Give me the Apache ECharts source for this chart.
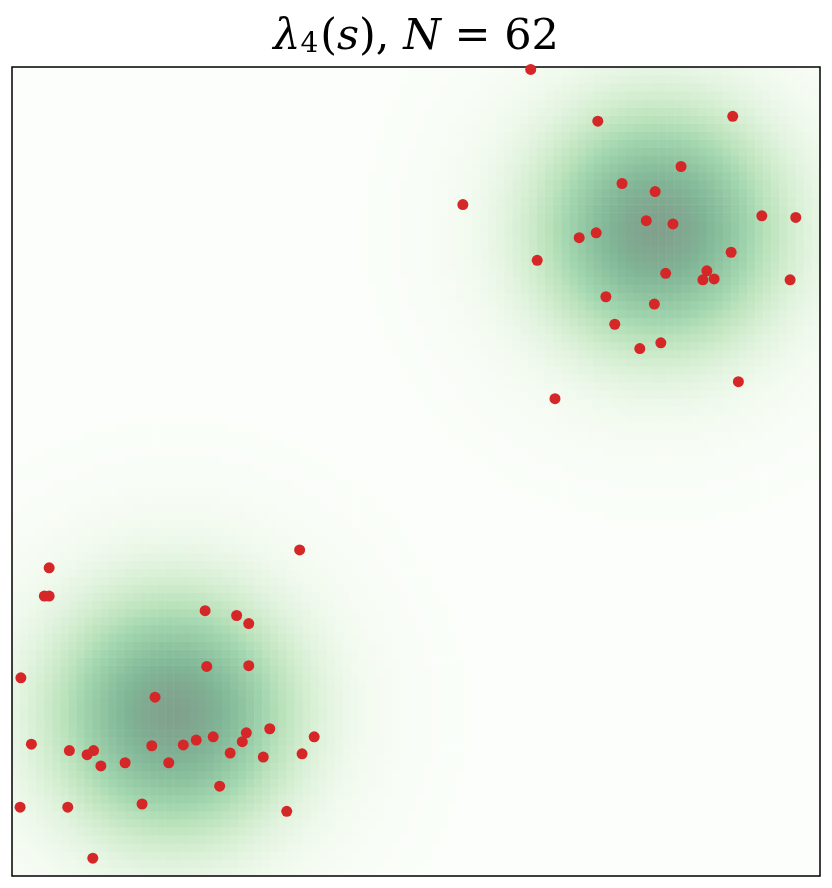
<!DOCTYPE html>
<html>
<head>
<meta charset="utf-8">
<title>lambda_4(s)</title>
<script src="https://cdn.jsdelivr.net/npm/echarts@6/dist/echarts.min.js"></script>
<style>
  html, body { margin: 0; padding: 0; background: #fff; }
  #main { width: 832px; height: 888px; }
</style>
</head>
<body>
<div id="main"></div>
<script>
// intensity surface: two gaussian bumps on the unit square
const nCells = 100;
const bumpCentersX = [0.2, 0.8];
const bumpCentersY = [0.2, 0.8];
const bumpSigma = [0.115, 0.115];
const bumpWeight = [1, 1];

// observed points (unit square coords)
const pointsX = [
  0.642, 0.725, 0.892, 0.828, 0.755, 0.796, 0.785, 0.818, 0.928, 0.970,
  0.702, 0.723, 0.650, 0.890, 0.809, 0.860, 0.855, 0.869, 0.963, 0.735,
  0.795, 0.746, 0.803, 0.777, 0.899, 0.672, 0.558,
  0.356, 0.046, 0.040, 0.046, 0.239, 0.278, 0.293, 0.241, 0.293, 0.011,
  0.177, 0.024, 0.071, 0.093, 0.101, 0.110, 0.140, 0.173, 0.194, 0.212,
  0.228, 0.249, 0.290, 0.285, 0.270, 0.319, 0.311, 0.374, 0.359, 0.257,
  0.010, 0.069, 0.161, 0.340, 0.100
];
const pointsY = [
  0.997, 0.933, 0.939, 0.877, 0.856, 0.846, 0.810, 0.806, 0.816, 0.814,
  0.789, 0.795, 0.761, 0.771, 0.745, 0.748, 0.737, 0.738, 0.737, 0.716,
  0.707, 0.682, 0.659, 0.652, 0.611, 0.590, 0.830,
  0.403, 0.381, 0.346, 0.346, 0.328, 0.322, 0.312, 0.259, 0.260, 0.245,
  0.221, 0.163, 0.155, 0.150, 0.155, 0.136, 0.140, 0.161, 0.140, 0.162,
  0.168, 0.172, 0.177, 0.166, 0.152, 0.182, 0.147, 0.172, 0.151, 0.111,
  0.085, 0.085, 0.089, 0.080, 0.022
];

// Greens colormap drawn at alpha 0.5 over white
const greens = ['#fbfefa', '#f2faef', '#e3f4e0', '#d0eccd', '#bae2bb',
                '#a0d5ae', '#91c5a2', '#80b696', '#80a28d'];

const cellIdx = [];
for (let i = 0; i < nCells; i++) cellIdx.push(i);

function lambda(x, y) {
  let v = 0;
  for (let k = 0; k < bumpCentersX.length; k++) {
    const dx = x - bumpCentersX[k], dy = y - bumpCentersY[k];
    const s = bumpSigma[k];
    v += bumpWeight[k] * Math.exp(-(dx * dx + dy * dy) / (2 * s * s));
  }
  return v;
}

const heat = [];
let vmax = 0, vmin = Infinity;
for (let i = 0; i < nCells; i++) {
  for (let j = 0; j < nCells; j++) {
    const v = lambda((i + 0.5) / nCells, (j + 0.5) / nCells);
    if (v > vmax) vmax = v;
    if (v < vmin) vmin = v;
    heat.push([i, j, v]);
  }
}

const points = pointsX.map((x, i) => [x, pointsY[i]]);

const serif = 'DejaVu Serif';
const myChart = echarts.init(document.getElementById('main'));
myChart.setOption({
  animation: false,
  backgroundColor: '#fff',
  title: {
    left: 'center',
    top: 0,
    text: '{l|λ}{s|4}{p|(}{i|s}{p|), }{i|N}{p| = 62}',
    textStyle: {
      rich: {
        l: { fontFamily: serif, fontSize: 43, fontStyle: 'italic', fontWeight: 'normal', color: '#000', lineHeight: 54, verticalAlign: 'bottom' },
        s: { fontFamily: serif, fontSize: 28, fontWeight: 'normal', color: '#000', lineHeight: 16, verticalAlign: 'bottom', padding: [0, 2, 0, 0] },
        p: { fontFamily: serif, fontSize: 43, fontWeight: 'normal', color: '#000', lineHeight: 54, verticalAlign: 'bottom' },
        i: { fontFamily: serif, fontSize: 43, fontStyle: 'italic', fontWeight: 'normal', color: '#000', lineHeight: 54, verticalAlign: 'bottom' }
      }
    }
  },
  grid: {
    show: true,
    z: 5,
    left: 12,
    top: 67,
    width: 808,
    height: 809,
    borderColor: '#000',
    borderWidth: 1.5,
    backgroundColor: 'transparent'
  },
  visualMap: {
    show: false,
    seriesIndex: 0,
    dimension: 2,
    min: vmin,
    max: vmax,
    inRange: { color: greens }
  },
  xAxis: [
    { type: 'category', data: cellIdx, show: false, boundaryGap: true },
    { type: 'value', min: 0, max: 1, show: false }
  ],
  yAxis: [
    { type: 'category', data: cellIdx, show: false, boundaryGap: true },
    { type: 'value', min: 0, max: 1, show: false }
  ],
  series: [
    {
      type: 'heatmap',
      xAxisIndex: 0,
      yAxisIndex: 0,
      data: heat,
      progressive: 0,
      z: 1,
      itemStyle: { borderWidth: 0 },
      emphasis: { disabled: true }
    },
    {
      type: 'scatter',
      xAxisIndex: 1,
      yAxisIndex: 1,
      data: points,
      symbolSize: 11,
      z: 10,
      itemStyle: { color: '#d62728', opacity: 1 }
    }
  ]
});
</script>
</body>
</html>
